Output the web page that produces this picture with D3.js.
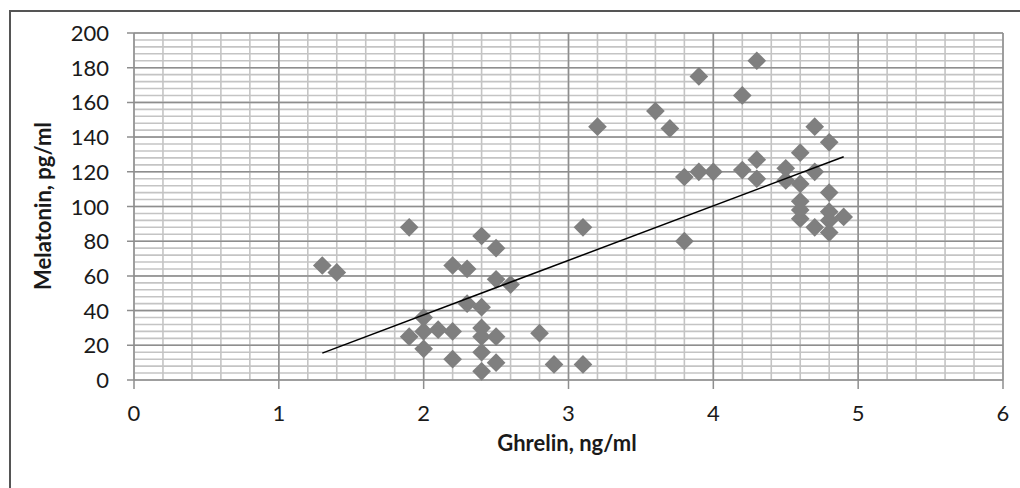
<!DOCTYPE html>
<head>
<meta charset="utf-8">
<title>Ghrelin vs Melatonin</title>
<script type="text/javascript" src="https://cdn.jsdelivr.net/npm/d3@7/dist/d3.min.js"></script>
<style>
	body { margin: 0; background: #fff; }
	.tick-label { font: 22px Lato, sans-serif; fill: #1a1a1a; }
	.axis-title { font: bold 22px Lato, sans-serif; fill: #1a1a1a; }
</style>
</head>

<body>
<script>
var width = 1020;
var height = 488;
var plot = {left: 134, right: 1003, top: 33, bottom: 380};

// data
var ghrelin = [1.3, 1.4, 1.9, 1.9, 2.0, 2.0, 2.0, 2.1, 2.2, 2.2, 2.2, 2.3, 2.3,
	2.4, 2.4, 2.4, 2.4, 2.4, 2.4, 2.5, 2.5, 2.5, 2.5, 2.6, 2.8, 2.9, 3.1, 3.1,
	3.2, 3.6, 3.7, 3.8, 3.8, 3.9, 3.9, 4.0, 4.2, 4.2, 4.3, 4.3, 4.3, 4.5, 4.5,
	4.6, 4.6, 4.6, 4.6, 4.6, 4.7, 4.7, 4.7, 4.8, 4.8, 4.8, 4.8, 4.8, 4.9];
var melatonin = [66, 62, 88, 25, 36, 28, 18, 29, 66, 28, 12, 64, 44,
	83, 42, 30, 25, 16, 5, 76, 58, 25, 10, 55, 27, 9, 88, 9,
	146, 155, 145, 117, 80, 175, 120, 120, 164, 121, 184, 127, 116, 122, 115,
	131, 113, 103, 98, 93, 146, 120, 88, 137, 108, 97, 92, 85, 94];
var trendX = [1.3, 4.9];
var trendY = [15.5, 128.7];
var xTicks = [0, 1, 2, 3, 4, 5, 6];
var yTicks = [0, 20, 40, 60, 80, 100, 120, 140, 160, 180, 200];

var svg = d3.select('body').append("svg")
	.attr("width", width)
	.attr("height", height)

var xScale = d3.scaleLinear().domain([0, 6]).range([plot.left, plot.right]);
var yScale = d3.scaleLinear().domain([0, 200]).range([plot.bottom, plot.top]);

// outer frame (cropped at right and bottom)
svg.append('rect')
	.attr('x', 10).attr('y', 11)
	.attr('width', 1030).attr('height', 500)
	.style('fill', 'none')
	.style('stroke', '#555')
	.style('stroke-width', 2);

// minor gridlines
var minorX = d3.range(0, 6.001, 0.2);
var minorY = d3.range(0, 200.001, 4);
svg.append('g').selectAll('line').data(minorY).enter().append('line')
	.attr('x1', plot.left).attr('x2', plot.right)
	.attr('y1', function(d) { return yScale(d) })
	.attr('y2', function(d) { return yScale(d) })
	.style('stroke', '#c4c4c4').style('stroke-width', 1.6);
svg.append('g').selectAll('line').data(minorX).enter().append('line')
	.attr('y1', plot.top).attr('y2', plot.bottom)
	.attr('x1', function(d) { return xScale(d) })
	.attr('x2', function(d) { return xScale(d) })
	.style('stroke', '#c4c4c4').style('stroke-width', 1.6);

// major gridlines
svg.append('g').selectAll('line').data(yTicks).enter().append('line')
	.attr('x1', plot.left - 7).attr('x2', plot.right)
	.attr('y1', function(d) { return yScale(d) })
	.attr('y2', function(d) { return yScale(d) })
	.style('stroke', '#8e8e8e').style('stroke-width', 1.5);
svg.append('g').selectAll('line').data(xTicks).enter().append('line')
	.attr('y1', plot.top).attr('y2', plot.bottom + 9)
	.attr('x1', function(d) { return xScale(d) })
	.attr('x2', function(d) { return xScale(d) })
	.style('stroke', '#8e8e8e').style('stroke-width', 1.5);

// tick labels
svg.append('g').selectAll('text').data(yTicks).enter().append('text')
	.attr('class', 'tick-label')
	.attr('x', 109)
	.attr('y', function(d) { return yScale(d) + 8 })
	.attr('text-anchor', 'end')
	.text(function(d) { return d });
svg.append('g').selectAll('text').data(xTicks).enter().append('text')
	.attr('class', 'tick-label')
	.attr('x', function(d) { return xScale(d) })
	.attr('y', 421)
	.attr('text-anchor', 'middle')
	.text(function(d) { return d });

// axis titles
svg.append('text')
	.attr('class', 'axis-title')
	.attr('x', 567).attr('y', 451)
	.attr('text-anchor', 'middle')
	.text('Ghrelin, ng/ml');
svg.append('text')
	.attr('class', 'axis-title')
	.attr('transform', 'translate(51,206) rotate(-90)')
	.attr('text-anchor', 'middle')
	.text('Melatonin, pg/ml');

// points
var dataset = ghrelin.map(function(g, i) { return [g, melatonin[i]]; });
svg.append('g').selectAll('path').data(dataset).enter().append('path')
	.attr('d', d3.symbol().type(d3.symbolSquare).size(175))
	.attr('transform', function(d) {
		return 'translate(' + xScale(d[0]) + ',' + yScale(d[1]) + ') rotate(45)';
	})
	.style('fill', '#7f7f7f');

// trendline
svg.append('line')
	.attr('x1', xScale(trendX[0])).attr('y1', yScale(trendY[0]))
	.attr('x2', xScale(trendX[1])).attr('y2', yScale(trendY[1]))
	.style('stroke', '#000').style('stroke-width', 1.5);
</script>
</body>
